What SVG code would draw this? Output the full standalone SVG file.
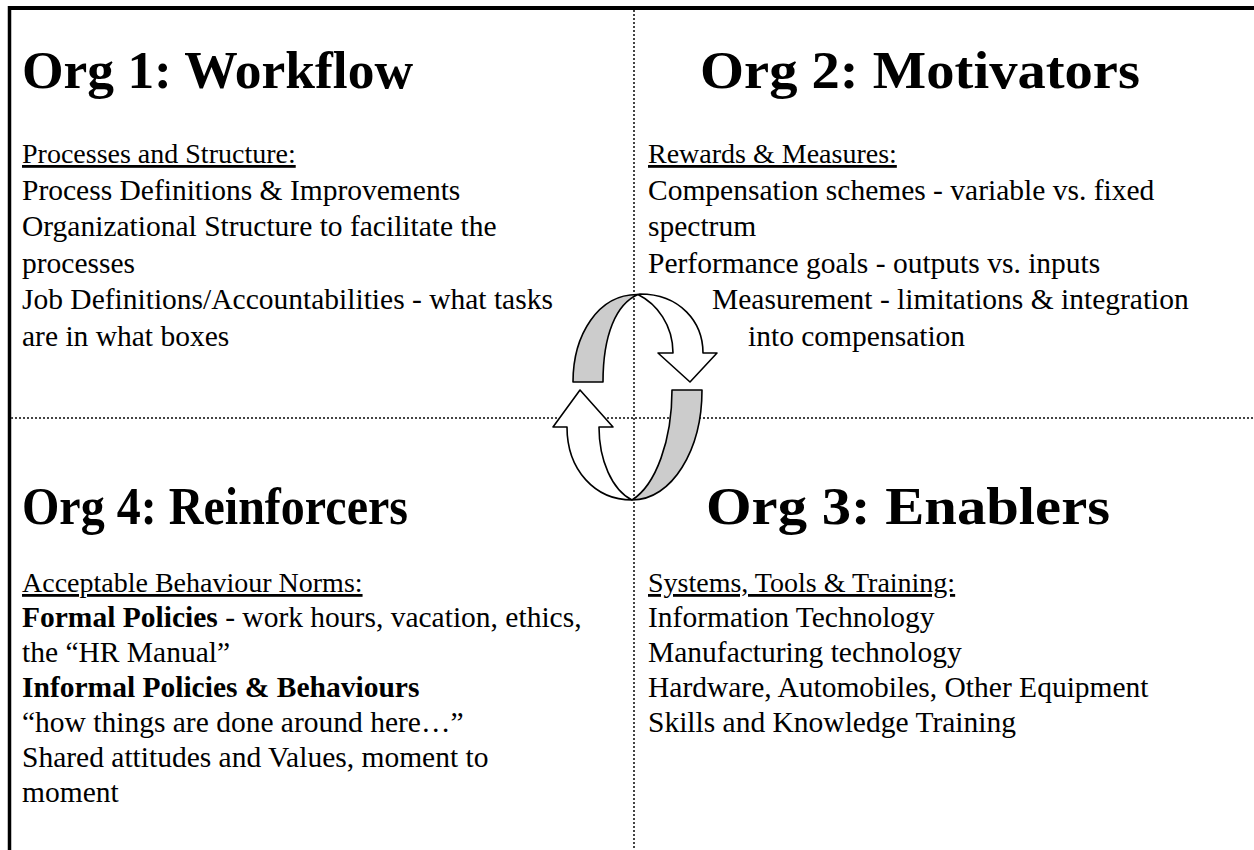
<svg xmlns="http://www.w3.org/2000/svg" width="1254" height="850" viewBox="0 0 1254 850">
<style>
.title{font-family:"Liberation Serif","Times New Roman",serif;font-weight:bold;font-size:52px;fill:#000}
.body{font-family:"Liberation Serif","Times New Roman",serif;font-size:29.5px;fill:#000}
.head{text-decoration:underline;font-size:28px}
.b{font-weight:bold}
.frame{stroke:#000;fill:none}
.dot{stroke:#444;stroke-width:2;stroke-dasharray:2 2;fill:none}
.arr{stroke:#000;stroke-width:1.6;stroke-linejoin:round}
.gray{fill:#cccccc}
.white{fill:#ffffff}
</style>
<rect width="1254" height="850" fill="#fff"/>
<g id="frame">
<line class="frame" x1="8" y1="8" x2="1254" y2="8" stroke-width="4"/>
<line class="frame" x1="9.5" y1="6" x2="9.5" y2="850" stroke-width="3.5"/>
<line class="dot" x1="634" y1="10" x2="634" y2="850"/>
<line class="dot" x1="11" y1="418" x2="1254" y2="418"/>
</g>
<g id="org1">
<text class="title" x="22" y="88" textLength="391" lengthAdjust="spacingAndGlyphs">Org 1: Workflow</text>
<text class="body head" x="22" y="163">Processes and Structure:</text>
<text class="body" x="22" y="199.5">Process Definitions &amp; Improvements</text>
<text class="body" x="22" y="236">Organizational Structure to facilitate the</text>
<text class="body" x="22" y="272.5">processes</text>
<text class="body" x="22" y="309">Job Definitions/Accountabilities - what tasks</text>
<text class="body" x="22" y="345.5">are in what boxes</text>
</g>
<g id="org2">
<text class="title" x="700" y="88" textLength="440" lengthAdjust="spacingAndGlyphs">Org 2: Motivators</text>
<text class="body head" x="648" y="163">Rewards &amp; Measures:</text>
<text class="body" x="648" y="199.5">Compensation schemes - variable vs. fixed</text>
<text class="body" x="648" y="236">spectrum</text>
<text class="body" x="648" y="272.5">Performance goals - outputs vs. inputs</text>
<text class="body" x="712" y="309">Measurement - limitations &amp; integration</text>
<text class="body" x="748" y="345.5">into compensation</text>
</g>
<g id="org4">
<text class="title" x="22" y="524" textLength="386" lengthAdjust="spacingAndGlyphs">Org 4: Reinforcers</text>
<text class="body head" x="22" y="592">Acceptable Behaviour Norms:</text>
<text class="body" x="22" y="627"><tspan class="b">Formal Policies</tspan> - work hours, vacation, ethics,</text>
<text class="body" x="22" y="662">the “HR Manual”</text>
<text class="body b" x="22" y="697">Informal Policies &amp; Behaviours</text>
<text class="body" x="22" y="732">“how things are done around here…”</text>
<text class="body" x="22" y="767">Shared attitudes and Values, moment to</text>
<text class="body" x="22" y="802">moment</text>
</g>
<g id="org3">
<text class="title" x="706" y="524" textLength="404" lengthAdjust="spacingAndGlyphs">Org 3: Enablers</text>
<text class="body head" x="648" y="592">Systems, Tools &amp; Training:</text>
<text class="body" x="648" y="627">Information Technology</text>
<text class="body" x="648" y="662">Manufacturing technology</text>
<text class="body" x="648" y="697">Hardware, Automobiles, Other Equipment</text>
<text class="body" x="648" y="732">Skills and Knowledge Training</text>
</g>
<g id="connectors">
<path class="arr gray" d="M573,382 C573,335 598,294 638,294.5 C616,304 603,335 603,382 Z"/>
<path class="arr white" d="M638,294.5 C657,304 673,325 673,353 L658,353 L690,382 L717,353 L703,353 C703,322 680,294 640,294 Z"/>
<path class="arr gray" d="M702,390 L672,390 C672,440 656,485 632,500 C672,500 702,450 702,390 Z"/>
<path class="arr white" d="M599,427 C599,460 612,490 632,500 C595,500 567,470 567,427 L553,427 L580,390 L613,427 Z"/>
</g>
</svg>
